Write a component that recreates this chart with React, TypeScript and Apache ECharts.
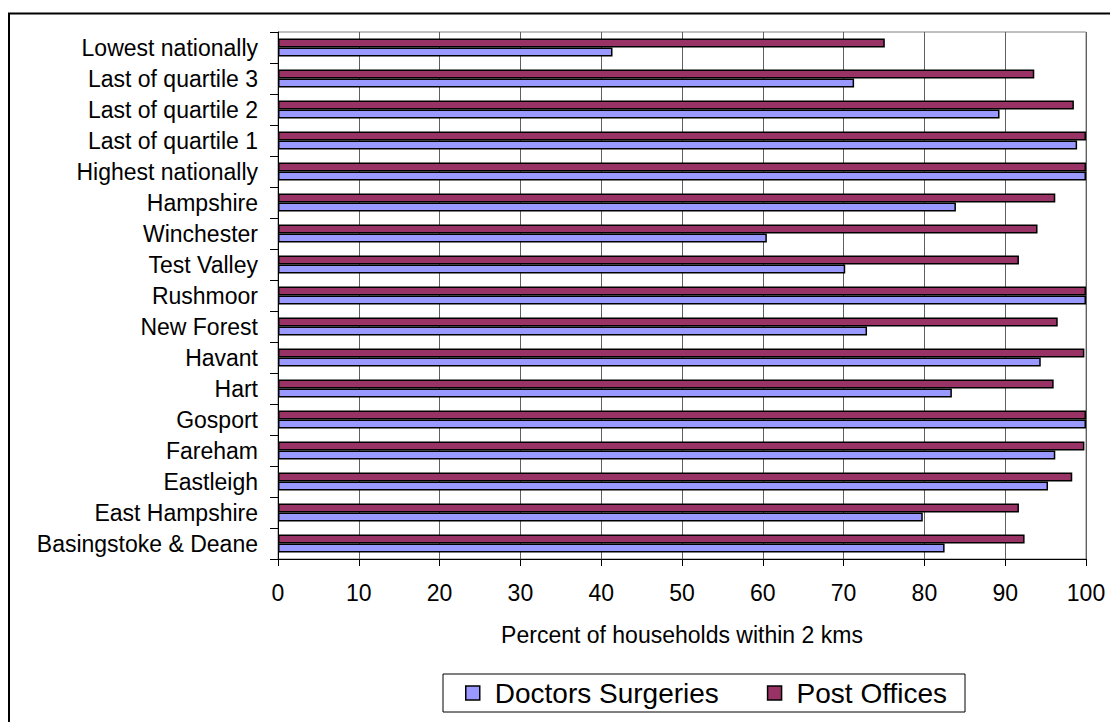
import React, { useEffect, useRef } from "react";
import * as echarts from "echarts";

// Categories listed bottom-to-top (ECharts category y-axis starts at the bottom)
const categories = [
  "Basingstoke & Deane",
  "East Hampshire",
  "Eastleigh",
  "Fareham",
  "Gosport",
  "Hart",
  "Havant",
  "New Forest",
  "Rushmoor",
  "Test Valley",
  "Winchester",
  "Hampshire",
  "Highest nationally",
  "Last of quartile 1",
  "Last of quartile 2",
  "Last of quartile 3",
  "Lowest nationally",
];

const doctorsSurgeries = [82.5, 79.8, 95.3, 96.2, 100, 83.4, 94.4, 72.9, 100, 70.2, 60.5, 83.9, 100, 98.9, 89.3, 71.3, 41.4];
const postOffices = [92.4, 91.7, 98.3, 99.8, 100, 96.0, 99.8, 96.5, 100, 91.7, 94.0, 96.2, 100, 100, 98.5, 93.6, 75.1];

const xTicks = { min: 0, max: 100, interval: 10 };
const seriesNames = ["Doctors Surgeries", "Post Offices"];
const axisName = "Percent of households within 2 kms";

const FONT = 'Arial, "Liberation Sans", sans-serif';

export default function App() {
  const ref = useRef<HTMLDivElement>(null);

  useEffect(() => {
    if (!ref.current) return;
    const chart = echarts.init(ref.current, null, { renderer: "svg" });
    chart.setOption({
      animation: false,
      backgroundColor: "#ffffff",
      textStyle: { fontFamily: FONT, color: "#000" },
      graphic: [
        {
          type: "rect",
          shape: { x: 9, y: 13.5, width: 1300, height: 900 },
          style: { fill: "none", stroke: "#000", lineWidth: 2 },
          silent: true,
        },
      ],
      grid: {
        left: 278,
        right: 24,
        top: 32,
        bottom: 163,
        containLabel: false,
        show: true,
        borderColor: "#808080",
        borderWidth: 1,
        backgroundColor: "transparent",
      },
      legend: {
        data: seriesNames,
        left: 443,
        top: 674,
        orient: "horizontal",
        itemWidth: 14,
        itemHeight: 14,
        itemGap: 48,
        icon: "rect",
        padding: [5, 18, 5, 22],
        borderColor: "#000",
        borderWidth: 1,
        itemStyle: { borderColor: "#000", borderWidth: 1.5 },
        textStyle: {
          fontFamily: FONT,
          fontSize: 28,
          color: "#000",
          padding: [0, 0, 0, 10],
        },
      },
      xAxis: {
        type: "value",
        min: xTicks.min,
        max: xTicks.max,
        interval: xTicks.interval,
        name: axisName,
        nameLocation: "middle",
        nameGap: 64,
        nameTextStyle: { fontFamily: FONT, fontSize: 23, color: "#000" },
        axisLine: { show: true, lineStyle: { color: "#000", width: 1 } },
        axisTick: { show: true, length: 7, lineStyle: { color: "#000" } },
        axisLabel: { fontFamily: FONT, fontSize: 23, color: "#000", margin: 22 },
        splitLine: { show: true, lineStyle: { color: "#606060", width: 1 } },
      },
      yAxis: {
        type: "category",
        data: categories,
        axisLine: { show: true, lineStyle: { color: "#000", width: 1 } },
        axisTick: { show: true, length: 8, lineStyle: { color: "#000" } },
        axisLabel: { fontFamily: FONT, fontSize: 23, color: "#000", margin: 20 },
        splitLine: { show: false },
      },
      series: [
        {
          name: seriesNames[1],
          type: "bar",
          data: postOffices,
          barWidth: 9,
          barGap: "0%",
          itemStyle: { color: "#993366", borderColor: "#000", borderWidth: 1.5 },
        },
        {
          name: seriesNames[0],
          type: "bar",
          data: doctorsSurgeries,
          barWidth: 9,
          barGap: "0%",
          itemStyle: { color: "#9999FF", borderColor: "#000", borderWidth: 1.5 },
        },
      ],
    });
    return () => chart.dispose();
  }, []);

  return (
    <div
      ref={ref}
      style={{ position: "fixed", left: 0, top: 0, width: 1110, height: 722, background: "#fff" }}
    />
  );
}
